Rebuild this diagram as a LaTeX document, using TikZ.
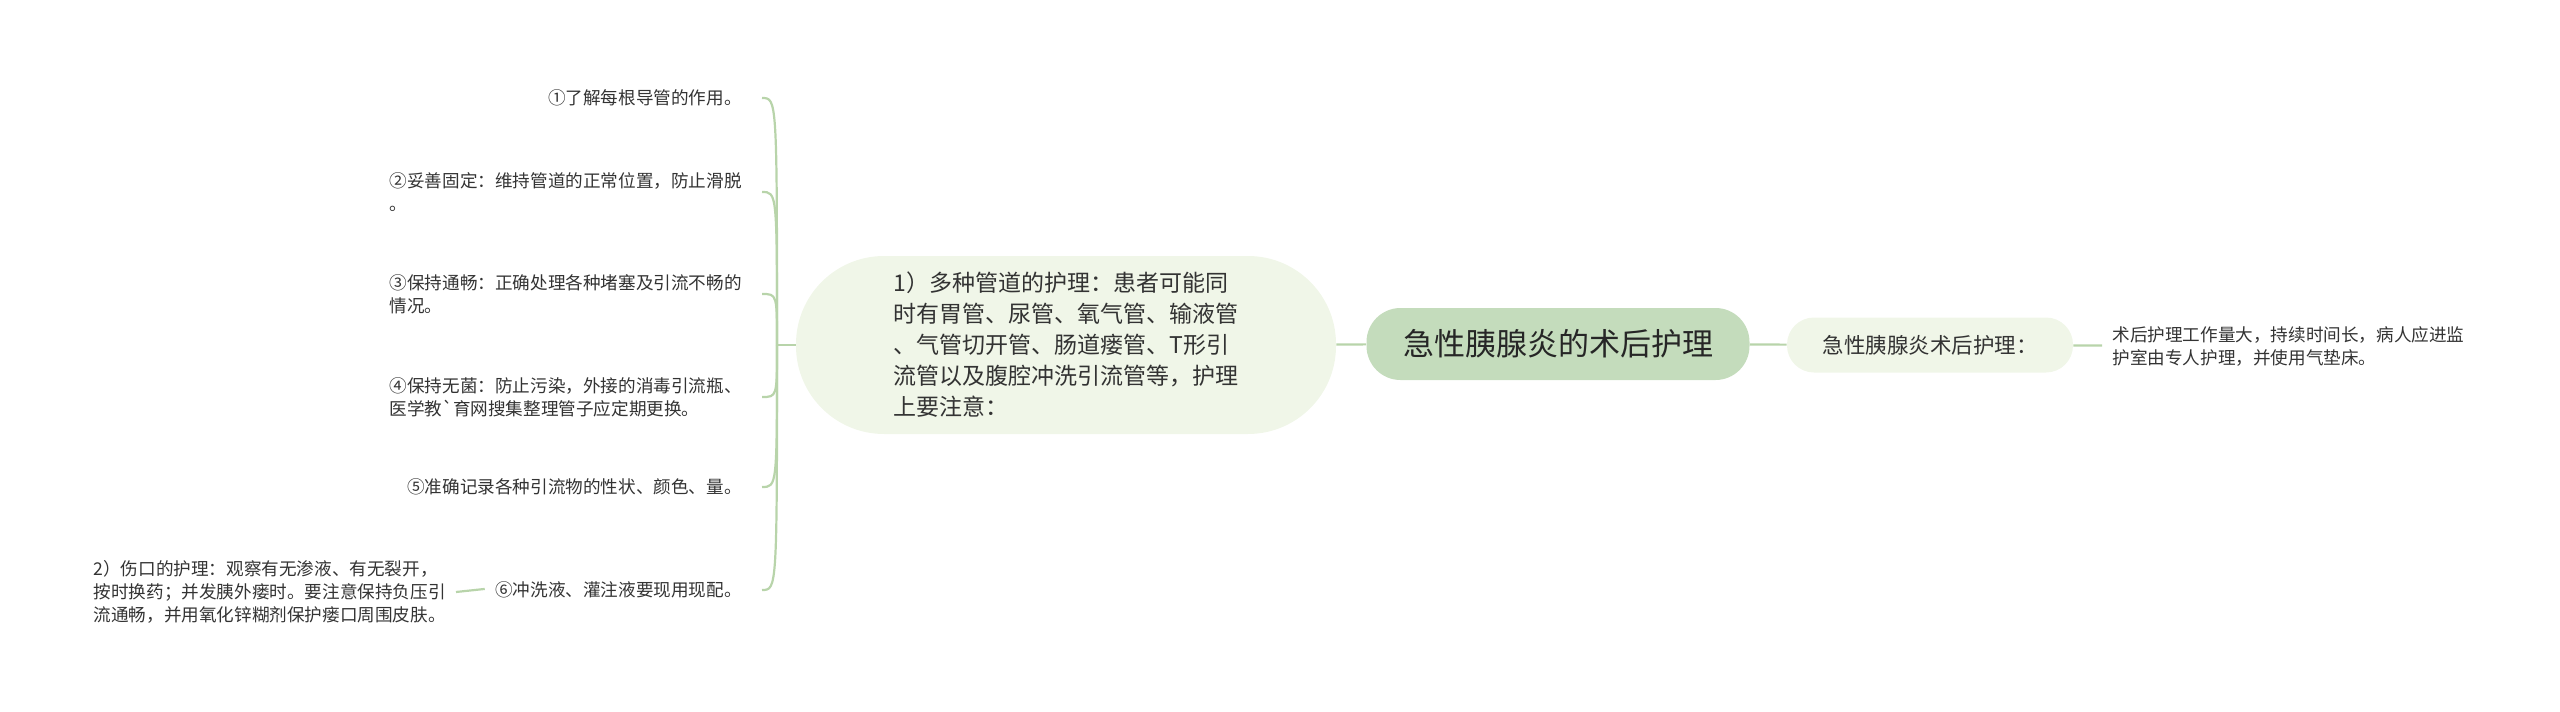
\documentclass[tikz,border=0pt]{standalone}
\usepackage{fontspec}
\setmainfont{Noto Sans CJK SC}
\usetikzlibrary{positioning}
\definecolor{rootgreen}{HTML}{C4DCBC}
\definecolor{palegreen}{HTML}{F0F6E8}
\definecolor{linkgreen}{HTML}{B8D4AA}
\definecolor{inkgray}{HTML}{333333}
\tikzset {
    root/.style = {fill = rootgreen, rounded corners = 17pt,
        minimum width = 191.5pt, minimum height = 36pt,
        font = \fontsize{15.5}{18}\selectfont, text = black!85},
    topic/.style = {fill = palegreen, rounded corners = 44pt,
        minimum width = 270pt, minimum height = 89pt, align = left,
        font = \fontsize{11.5}{15.5}\selectfont, text = inkgray},
    subtopic/.style = {fill = palegreen, rounded corners = 13.5pt,
        minimum width = 143pt, minimum height = 27.5pt,
        font = \fontsize{10.75}{13}\selectfont, text = inkgray},
    leaf/.style = {align = left, inner xsep = 10pt, inner ysep = 2pt,
        font = \fontsize{8.8}{11.5}\selectfont, text = inkgray},
    link/.style = {draw = linkgreen, line width = 1.1pt},
}
\begin{document}
\begin{tikzpicture}[x = 0.5pt, y = -0.5pt]
    \useasboundingbox (0, 0) rectangle (2560, 712);
    % centre
    \node (r) [root] at (1558, 344) {急性胰腺炎的术后护理};
    \node (t) [topic] at (1066, 345) {1）多种管道的护理：患者可能同\\
        时有胃管、尿管、氧气管、输液管\\
        、气管切开管、肠道瘘管、T形引\\
        流管以及腹腔冲洗引流管等，护理\\
        上要注意：};
    \node (s) [subtopic] at (1930, 345) {急性胰腺炎术后护理：};
    \node (n) [leaf, anchor = west, inner xsep = 5pt] at (2102, 346)
        {术后护理工作量大，持续时间长，病人应进监\\护室由专人护理，并使用气垫床。};
    \draw [link] (t) -- (r);
    \draw [link] (r) -- (s);
    \draw [link] (s) -- (n);
    % left branches
    \coordinate (fork) at (777, 345);
    \node (l1) [leaf, anchor = east] at (762,  98) {①了解每根导管的作用。};
    \node (l2) [leaf, anchor = east] at (762, 192) {②妥善固定：维持管道的正常位置，防止滑脱\\。};
    \node (l3) [leaf, anchor = east] at (762, 294) {③保持通畅：正确处理各种堵塞及引流不畅的\\情况。};
    \node (l4) [leaf, anchor = east] at (762, 397) {④保持无菌：防止污染，外接的消毒引流瓶、\\医学教\textasciigrave 育网搜集整理管子应定期更换。};
    \node (l5) [leaf, anchor = east] at (762, 487) {⑤准确记录各种引流物的性状、颜色、量。};
    \node (l6) [leaf, anchor = east] at (762, 590) {⑥冲洗液、灌注液要现用现配。};
    \node (w) [leaf, anchor = east, inner xsep = 5pt] at (456, 592)
        {2）伤口的护理：观察有无渗液、有无裂开，\\
        按时换药；并发胰外瘘时。要注意保持负压引\\
        流通畅，并用氧化锌糊剂保护瘘口周围皮肤。};
    \draw [link] (t.west) -- (fork);
    \foreach \i in {1, ..., 6}
        \draw [link] (fork) .. controls (fork |- l\i.east) and (fork |- l\i.east) .. (l\i.east);
    \draw [link, shorten > = -5pt] (w.east) -- (l6.west);
\end{tikzpicture}
\end{document}
